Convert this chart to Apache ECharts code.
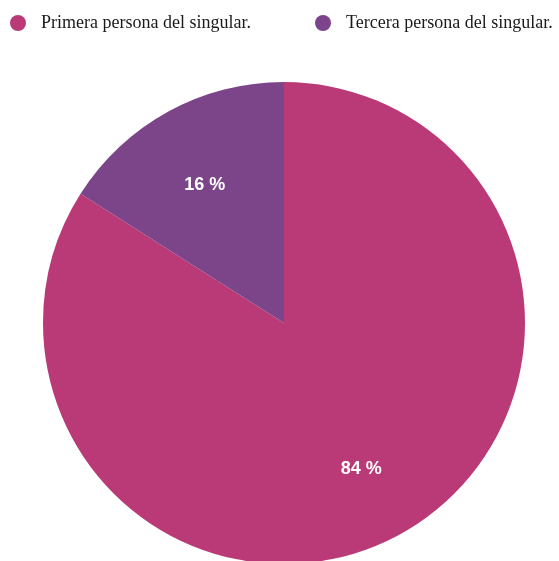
<!DOCTYPE html>
<html>
<head>
<meta charset="utf-8">
<script src="https://cdn.jsdelivr.net/npm/echarts@6/dist/echarts.min.js"></script>
<style>
  html, body { margin: 0; padding: 0; background: #fff; }
  #chart { width: 559px; height: 561px; }
</style>
</head>
<body>
<div id="chart"></div>
<script>
// Respuestas: persona gramatical usada
const categories = ['Primera persona del singular.', 'Tercera persona del singular.'];
const values = [84, 16];
const colors = ['#b93a77', '#7c4489'];

const pieData = categories.map((name, i) => ({
  name: name,
  value: values[i],
  itemStyle: { color: colors[i] }
}));

const chart = echarts.init(document.getElementById('chart'), null, { renderer: 'canvas' });

const legendText = {
  fontFamily: '"Liberation Serif", "Times New Roman", serif',
  fontSize: 18,
  color: '#1a1a1a',
  padding: [2, 0, 0, 10]
};

chart.setOption({
  animation: false,
  legend: [
    {
      data: [categories[0]],
      left: 10, top: 14, padding: 0,
      icon: 'circle', itemWidth: 16, itemHeight: 16,
      textStyle: legendText
    },
    {
      data: [categories[1]],
      left: 315, top: 14, padding: 0,
      icon: 'circle', itemWidth: 16, itemHeight: 16,
      textStyle: legendText
    }
  ],
  series: [
    {
      // inner disc fills the centre so labels can sit further out
      type: 'pie',
      center: [284, 323],
      radius: [0, 80],
      startAngle: 90,
      clockwise: true,
      silent: true,
      label: { show: false },
      labelLine: { show: false },
      itemStyle: { borderWidth: 0 },
      data: pieData
    },
    {
      type: 'pie',
      center: [284, 323],
      radius: [78, 241],
      startAngle: 90,
      clockwise: true,
      silent: true,
      itemStyle: { borderWidth: 0 },
      label: {
        show: true,
        position: 'inside',
        formatter: p => p.value + ' %',
        color: '#fff',
        fontFamily: '"Liberation Sans", Arial, sans-serif',
        fontWeight: 'bold',
        fontSize: 18,
        offset: [-1, 4]
      },
      labelLine: { show: false },
      data: pieData
    }
  ]
});
</script>
</body>
</html>
